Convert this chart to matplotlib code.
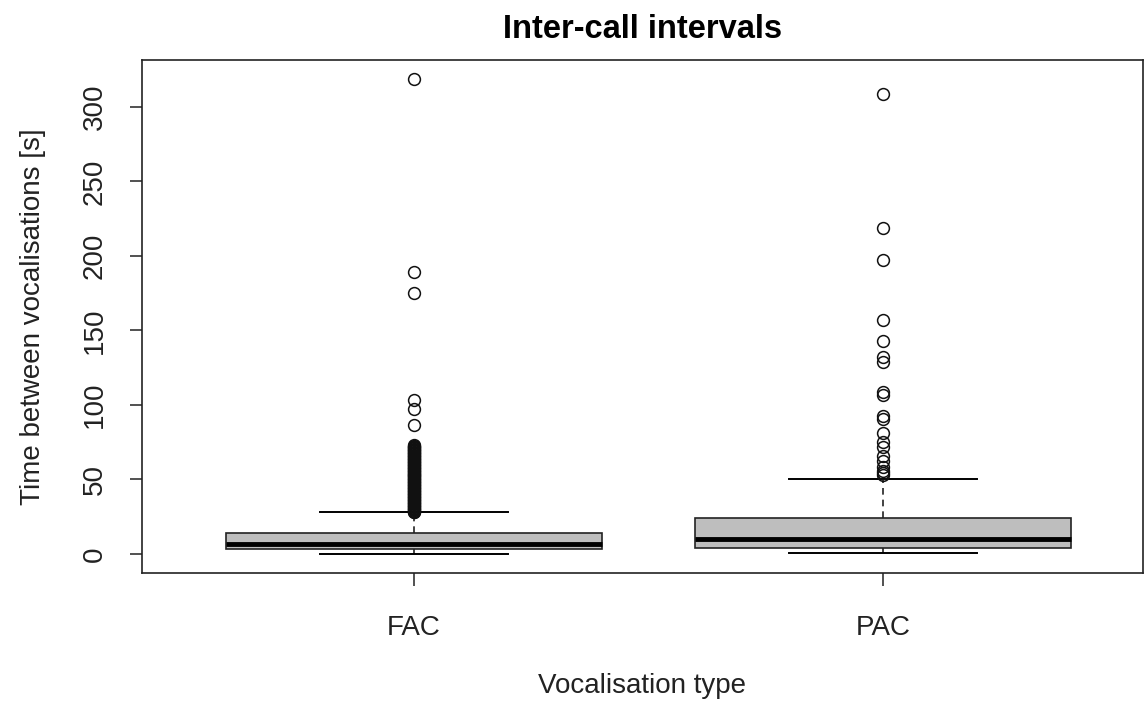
import matplotlib
matplotlib.use("Agg")
import matplotlib.pyplot as plt

plt.rcParams['font.family'] = ['Liberation Sans', 'DejaVu Sans']

categories = ["FAC", "PAC"]
q1 = [3.4, 4.0]
medians = [6.7, 10.1]
q3 = [14.1, 24.2]
whisker_low = [0.0, 0.7]
whisker_high = [28.2, 50.4]
outliers_fac = [28, 28.5, 29, 29.5, 30, 30.5, 31, 31.5, 32, 32.5, 33, 33.5, 34, 34.5,
                35, 35.5, 36, 36.5, 37, 37.5, 38, 38.5, 39, 39.5, 40, 40.5, 41, 41.5,
                42, 42.5, 43, 43.5, 44, 44.5, 45, 45.5, 46, 46.5, 47, 47.5, 48, 48.5,
                49, 49.5, 50, 50.5, 51, 51.5, 52, 52.5, 53, 53.5, 54, 54.5, 55, 55.5,
                56, 56.5, 57, 57.5, 58, 58.5, 59, 59.5, 60, 60.5, 61, 61.5, 62, 62.5,
                63, 63.5, 64, 64.5, 65, 65.5, 66, 66.5, 67, 67.5, 68, 68.5, 69, 69.5,
                70, 70.5, 71, 71.5, 72, 72.5, 73,
                86.7, 97.5, 103.6, 174.8, 189, 318.8]
outliers_pac = [53, 54.5, 56, 58.5, 62.5, 66, 72, 75, 81, 90.8, 92.8, 107, 109,
                129, 132, 143, 156.7, 197, 219, 308.7]
title = "Inter-call intervals"
xlabel = "Vocalisation type"
ylabel = "Time between vocalisations [s]"
yticks = [0, 50, 100, 150, 200, 250, 300]

stats = []
for i, name in enumerate(categories):
    stats.append(dict(label=name, q1=q1[i], med=medians[i], q3=q3[i],
                      whislo=whisker_low[i], whishi=whisker_high[i],
                      fliers=[outliers_fac, outliers_pac][i]))

fig = plt.figure(figsize=(11.44, 7.04), dpi=100)
ax = fig.add_axes([0.124, 0.186, 0.875, 0.729])
ax.bxp(stats, positions=[1, 2], widths=0.8, patch_artist=True,
       boxprops=dict(facecolor='#BEBEBE', edgecolor='#222222', linewidth=1.2),
       medianprops=dict(color='black', linewidth=3.5, solid_capstyle='butt'),
       whiskerprops=dict(color='#222222', linewidth=1.2, linestyle=(0, (4, 3))),
       capprops=dict(color='black', linewidth=1.4),
       capwidths=0.4,
       flierprops=dict(marker='o', markerfacecolor='none', markeredgecolor='#111111',
                       markersize=8.5, markeredgewidth=1.1))

ax.set_xlim(0.42, 2.554)
ax.set_ylim(-12.8, 331.6)
ax.set_yticks(yticks)
ax.set_yticklabels([str(t) for t in yticks], rotation=90, va='center', fontsize=20,
                   color='#222222')
ax.set_xticks([1, 2])
ax.set_xticklabels(categories, fontsize=20, color='#222222')
ax.tick_params(axis='both', direction='out', length=9, width=1.1, colors='#222222')
ax.tick_params(axis='y', pad=15.5)
ax.tick_params(axis='x', pad=21)
for s in ax.spines.values():
    s.set_linewidth(1.2)
    s.set_color('#222222')

ax.set_title(title, fontsize=23.5, fontweight='bold', pad=16)
ax.set_xlabel(xlabel, fontsize=20, labelpad=23, color='#222222')
ax.set_ylabel(ylabel, fontsize=20, labelpad=26, color='#222222')

fig.savefig("out.png", dpi=100)
